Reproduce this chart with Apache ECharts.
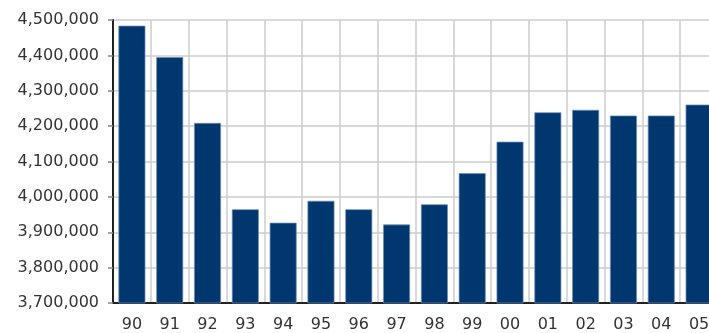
<!DOCTYPE html>
<html>
<head>
<meta charset="utf-8">
<script src="https://cdn.jsdelivr.net/npm/echarts@6/dist/echarts.min.js"></script>
<style>
  html, body { margin: 0; padding: 0; background: #ffffff; overflow: hidden; width: 709px; height: 333px; }
  /* the last year's column runs past the right edge, so the canvas is a little wider than the page */
  #chart { width: 718px; height: 333px; }
</style>
</head>
<body>
<div id="chart"></div>
<script>
// Two-digit year labels along the bottom axis
const years = ['90', '91', '92', '93', '94', '95', '96', '97', '98', '99', '00', '01', '02', '03', '04', '05'];

// Yearly totals
const totals = [4484000, 4395000, 4209000, 3965000, 3927000, 3989000, 3965000, 3922000,
                3979000, 4067000, 4156000, 4239000, 4246000, 4230000, 4230000, 4261000];

// Value axis range
const yMin = 3700000;
const yMax = 4500000;
const yStep = 100000;

const chart = echarts.init(document.getElementById('chart'), null, { renderer: 'canvas' });

const labelFont = { fontFamily: 'DejaVu Sans', fontSize: 16, color: '#333333' };

chart.setOption({
  animation: false,
  backgroundColor: '#ffffff',
  grid: { left: 113, top: 20, bottom: 29, right: 0, containLabel: false },
  xAxis: {
    type: 'category',
    data: years,
    boundaryGap: true,
    axisLine: { show: true, lineStyle: { color: '#222222', width: 2 } },
    axisTick: { show: false },
    axisLabel: Object.assign({ margin: 14, interval: 0 }, labelFont),
    splitLine: { show: true, interval: 0, lineStyle: { color: '#cccccc', width: 1.5 } }
  },
  yAxis: {
    type: 'value',
    min: yMin,
    max: yMax,
    interval: yStep,
    axisLine: { show: true, lineStyle: { color: '#222222', width: 2 } },
    axisTick: { show: true, length: 5, lineStyle: { color: '#888888', width: 1.5 } },
    axisLabel: Object.assign({
      margin: 14,
      formatter: v => v.toString().replace(/\B(?=(\d{3})+(?!\d))/g, ',')
    }, labelFont),
    splitLine: { show: true, lineStyle: { color: '#cccccc', width: 1.5 } }
  },
  series: [{
    type: 'bar',
    data: totals,
    barWidth: 27,
    itemStyle: {
      color: '#00376f',
      borderColor: 'rgba(110,140,180,0.9)',
      borderWidth: 0.8
    }
  }]
});
</script>
</body>
</html>
